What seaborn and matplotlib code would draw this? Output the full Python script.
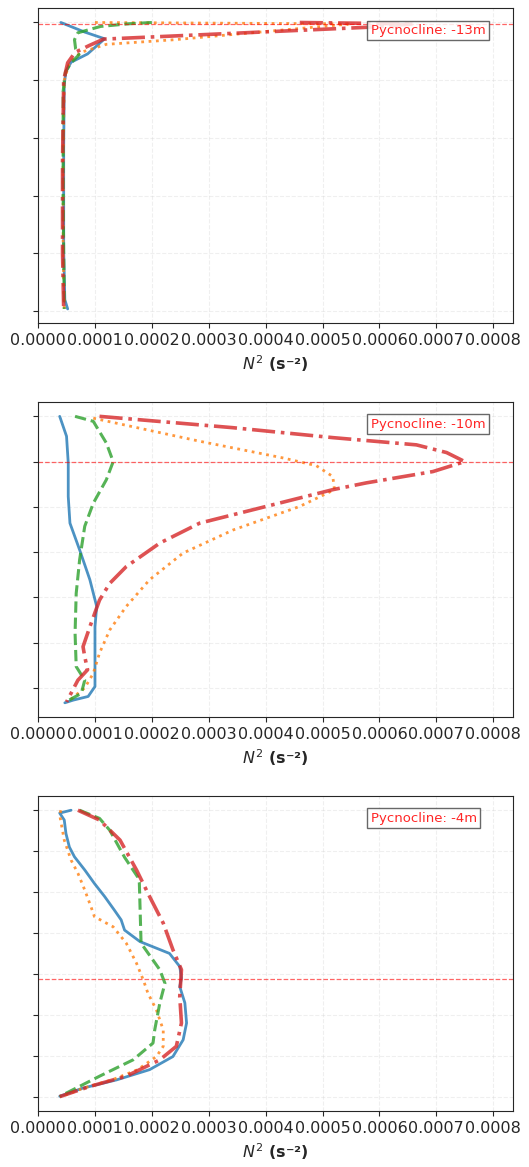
"""
N^2 profiles for three stations, pycnocline marked
"""
import matplotlib
matplotlib.use("Agg")
import matplotlib.pyplot as plt
import matplotlib.ticker as mticker
import pandas as pd
import seaborn as sns

sns.set_style("ticks")
plt.rcParams["font.family"] = ["DejaVu Sans"]

# ── data (depth in m, N^2 in s^-2) ──────────────────────────────────────────
# panel 1
p1_blue_z = [-1, -84, -142, -273, -345, -423, -536, -1100, -1970, -2400, -2480]
p1_blue_n2 = [4.0e-5, 8.2e-5, 1.17e-4, 8.7e-5, 5.8e-5, 4.9e-5, 4.6e-5, 4.5e-5, 4.5e-5, 4.7e-5, 5.2e-5]
p1_orange_z = [-1, -13, -150, -190, -260, -350, -500, -1200, -2000, -2480]
p1_orange_n2 = [1.0e-4, 5.5e-4, 2.4e-4, 1.2e-4, 7.5e-5, 5.5e-5, 4.6e-5, 4.4e-5, 4.4e-5, 4.6e-5]
p1_green_z = [-1, -12, -35, -90, -150, -230, -280, -350, -430, -600, -1500, -2480]
p1_green_n2 = [2.0e-4, 1.6e-4, 1.1e-4, 7.0e-5, 6.4e-5, 6.6e-5, 7.2e-5, 5.8e-5, 4.8e-5, 4.4e-5, 4.4e-5, 4.6e-5]
p1_red_z = [-1, -13, -40, -145, -200, -260, -350, -500, -1200, -2000, -2480]
p1_red_n2 = [4.6e-4, 6.6e-4, 5.9e-4, 1.15e-4, 9.0e-5, 6.5e-5, 5.2e-5, 4.5e-5, 4.3e-5, 4.3e-5, 4.5e-5]

# panel 2
p2_blue_z = [0, -4.4, -10.3, -17.7, -23.6, -29.5, -36.1, -42.0, -46.5, -55.3, -59.7, -61.9, -62.7, -63.3]
p2_blue_n2 = [3.8e-5, 5.0e-5, 5.3e-5, 5.3e-5, 5.6e-5, 7.3e-5, 9.1e-5, 1.03e-4, 1.0e-4, 1.0e-4, 1.0e-4, 8.8e-5, 6.2e-5, 4.7e-5]
p2_orange_z = [-0.4, -5.5, -9.2, -10.9, -13.3, -16.2, -19.9, -25.1, -30.2, -36.1, -42.0, -47.2, -52.3, -56.8, -60.0, -63.1]
p2_orange_n2 = [9.7e-5, 2.84e-4, 4.31e-4, 4.89e-4, 5.18e-4, 5.21e-4, 4.6e-4, 3.43e-4, 2.55e-4, 1.96e-4,
                1.55e-4, 1.26e-4, 1.08e-4, 9.7e-5, 8.2e-5, 5.2e-5]
p2_green_z = [0, -1.1, -5.9, -10, -14, -19.2, -24.3, -31.7, -39.1, -47.9, -55.3, -58.3, -61.2, -63.1]
p2_green_n2 = [6.5e-5, 9.7e-5, 1.2e-4, 1.32e-4, 1.2e-4, 9.7e-5, 8.2e-5, 7.3e-5, 6.7e-5, 6.5e-5, 6.7e-5, 8.2e-5, 7.6e-5, 4.9e-5]
p2_red_z = [0, -2.5, -4.7, -6.3, -8.0, -10.0, -12.2, -14.7, -16.2, -19.9, -23.6, -28.0, -33.2, -36.9,
            -40.6, -43.5, -46.5, -50.9, -53.1, -56.0, -58.3, -63.1]
p2_red_n2 = [1.08e-4, 3.42e-4, 5.18e-4, 6.65e-4, 7.18e-4, 7.5e-4, 6.94e-4, 5.77e-4, 5.18e-4, 4.01e-4,
             2.84e-4, 2.14e-4, 1.55e-4, 1.26e-4, 1.08e-4, 9.96e-5, 9.1e-5, 7.9e-5, 8.2e-5, 8.7e-5, 7.0e-5, 5.0e-5]

# panel 3
p3_blue_z = [0, -0.07, -0.24, -0.57, -0.9, -1.14, -1.46, -1.79, -2.11, -2.44, -2.68, -2.93, -3.21, -3.50,
             -3.82, -4.10, -4.31, -4.71, -5.20, -5.61, -6.02, -6.34, -6.59, -6.79, -6.99]
p3_blue_n2 = [5.8e-5, 3.8e-5, 4.6e-5, 4.9e-5, 5.5e-5, 6.4e-5, 8.2e-5, 9.9e-5, 1.17e-4, 1.34e-4, 1.46e-4,
              1.52e-4, 1.79e-4, 2.31e-4, 2.49e-4, 2.52e-4, 2.49e-4, 2.58e-4, 2.61e-4, 2.55e-4, 2.37e-4,
              1.96e-4, 1.38e-4, 7.9e-5, 3.8e-5]
p3_orange_z = [0, -0.12, -0.73, -1.22, -1.54, -1.95, -2.36, -2.6, -2.85, -3.25, -3.74, -4.15, -4.47, -4.88,
               -5.37, -5.77, -6.02, -6.34, -6.59, -6.79, -7.0]
p3_orange_n2 = [4.0e-5, 3.8e-5, 4.6e-5, 5.8e-5, 7.0e-5, 8.2e-5, 9.3e-5, 9.9e-5, 1.32e-4, 1.55e-4, 1.73e-4,
                1.85e-4, 1.93e-4, 2.08e-4, 2.2e-4, 2.2e-4, 2.08e-4, 1.75e-4, 1.3e-4, 8.0e-5, 4.0e-5]
p3_green_z = [0, -0.2, -0.49, -1.15, -1.63, -1.78, -3.25, -3.9, -4.23, -4.71, -5.37, -5.69, -6.10, -6.50, -6.91, -7.0]
p3_green_n2 = [7.3e-5, 1.08e-4, 1.26e-4, 1.52e-4, 1.75e-4, 1.78e-4, 1.81e-4, 2.14e-4, 2.23e-4, 2.14e-4,
               2.05e-4, 2.02e-4, 1.67e-4, 1.08e-4, 5.0e-5, 3.8e-5]
p3_red_z = [0, -0.24, -0.73, -1.46, -2.11, -2.76, -3.41, -3.90, -4.55, -5.20, -5.77, -6.10, -6.50, -6.75, -7.0]
p3_red_n2 = [7.0e-5, 1.08e-4, 1.44e-4, 1.73e-4, 1.96e-4, 2.2e-4, 2.37e-4, 2.52e-4, 2.49e-4, 2.52e-4,
             2.43e-4, 2.14e-4, 1.55e-4, 9.1e-5, 3.8e-5]

pycnocline = [-13, -10, -4.13]
ytick_sets = [[0, -500, -1000, -1500, -2000, -2500],
              [0, -10, -20, -30, -40, -50, -60],
              [0, -1, -2, -3, -4, -5, -6, -7]]
xticks = [0.0, 0.0001, 0.0002, 0.0003, 0.0004, 0.0005, 0.0006, 0.0007, 0.0008]

panels = [
    [(p1_blue_n2, p1_blue_z), (p1_orange_n2, p1_orange_z), (p1_green_n2, p1_green_z), (p1_red_n2, p1_red_z)],
    [(p2_blue_n2, p2_blue_z), (p2_orange_n2, p2_orange_z), (p2_green_n2, p2_green_z), (p2_red_n2, p2_red_z)],
    [(p3_blue_n2, p3_blue_z), (p3_orange_n2, p3_orange_z), (p3_green_n2, p3_green_z), (p3_red_n2, p3_red_z)],
]

# line styles: blue solid, orange dotted, green dashed, red dash-dot
styles = [("#1f77b4", "-", 2.0), ("#ff7f0e", ":", 2.0), ("#2ca02c", "--", 2.2), ("#d62728", "-.", 2.6)]

# ── figure ──────────────────────────────────────────────────────────────────
fig, axes = plt.subplots(3, 1, figsize=(5.29, 11.67), dpi=100)
fig.subplots_adjust(left=0.072, right=0.97, top=0.993, bottom=0.048, hspace=0.25)

for ax, lines, pyc, yt in zip(axes, panels, pycnocline, ytick_sets):
    for (n2, z), (col, ls, lw) in zip(lines, styles):
        d = pd.DataFrame({"n2": n2, "z": z})
        sns.lineplot(data=d, x="n2", y="z", sort=False, estimator=None, ax=ax,
                     color=col, linestyle=ls, linewidth=lw, alpha=0.8)
    ax.axhline(pyc, color="red", linestyle="--", linewidth=0.9, alpha=0.6)
    ax.text(0.70, 0.95, f"Pycnocline: {pyc:.0f}m", transform=ax.transAxes,
            ha="left", va="top", fontsize=9.5, color="red", alpha=0.85,
            bbox=dict(boxstyle="square,pad=0.25", facecolor="white",
                      edgecolor="0.3", linewidth=1.0, alpha=0.85))
    ax.set_xlim(0, 0.000835)
    ax.set_xticks(xticks)
    ax.xaxis.set_major_formatter(mticker.FormatStrFormatter("%.4f"))
    ax.set_yticks(yt)
    ax.tick_params(axis="y", labelleft=False)
    ax.tick_params(axis="x", labelsize=11.5)
    ax.grid(True, linestyle="--", alpha=0.3)
    ax.set_xlabel(r"$N^2$ (s⁻²)", fontsize=11.5, fontweight="bold")
    ax.set_ylabel("")

plt.savefig("out.png", dpi=100)
plt.close()
